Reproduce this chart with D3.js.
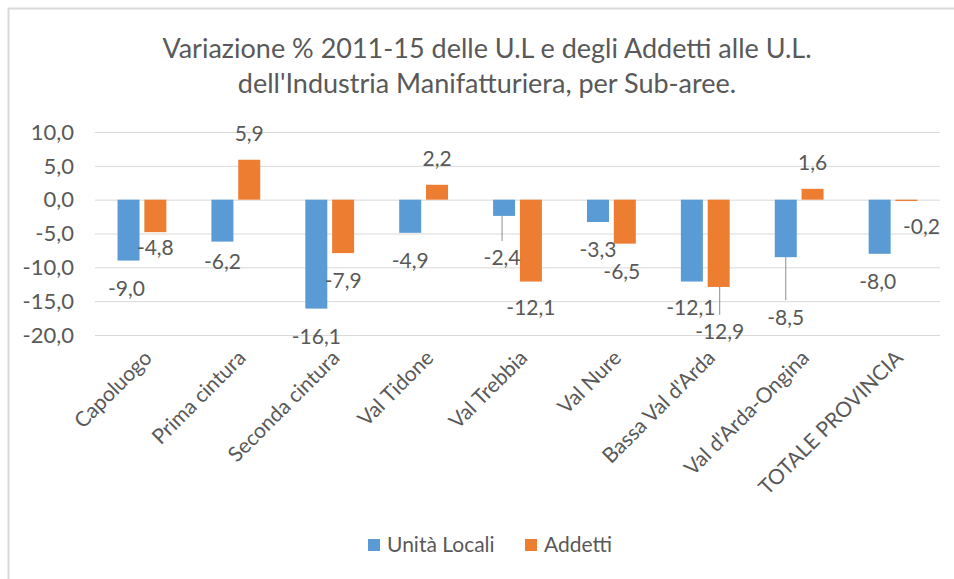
<!DOCTYPE html>
<html>
<head>
<meta charset="utf-8">
<script src="https://cdn.jsdelivr.net/npm/d3@7"></script>
<style>
  body { margin: 0; background: #fff; }
  svg text { font-family: Lato, "Open Sans", sans-serif; fill: #595959; }
</style>
</head>
<body>
<svg id="chart" width="954" height="579"></svg>
<script>
// data
var categories = ["Capoluogo", "Prima cintura", "Seconda cintura", "Val Tidone", "Val Trebbia",
  "Val Nure", "Bassa Val d'Arda", "Val d'Arda-Ongina", "TOTALE PROVINCIA"];
var unitaLocali = [-9.0, -6.2, -16.1, -4.9, -2.4, -3.3, -12.1, -8.5, -8.0];
var addetti = [-4.8, 5.9, -7.9, 2.2, -12.1, -6.5, -12.9, 1.6, -0.2];
var seriesNames = ["Unità Locali", "Addetti"];
var yTicks = [10, 5, 0, -5, -10, -15, -20];
var titleLines = ["Variazione % 2011-15 delle U.L e degli Addetti alle U.L.",
  "dell'Industria Manifatturiera, per Sub-aree."];

var colors = ["#5b9bd5", "#ed7d31"];

// hand-moved data labels (dx, dy from default spot), one list per series
var labelShift = [
  [[-2, 0], [0, -8], [0, 0], [0, 0], [-2, 14], [0, 0], [-1, -2], [0, 32], [-2, 0]],
  [[0, -12], [0, 0], [0, 0], [0, 0], [0, -2], [-3, 0], [1, 17], [0, 0], [15, -2]]
];
var leaderLines = [[4, 7], [6]]; // labels that get a thin leader line

var svg = d3.select("#chart");

// chart frame
svg.append("rect")
  .attr("x", 8.5).attr("y", 8.5)
  .attr("width", 960).attr("height", 600)
  .attr("fill", "none").attr("stroke", "#d9d9d9").attr("stroke-width", 2);

var plot = {left: 95, right: 940, top: 132, bottom: 335};

var x0 = d3.scaleBand().domain(categories)
  .range([plot.left, plot.right])
  .paddingInner(0.48).paddingOuter(0.24);
var x1 = d3.scaleBand().domain([0, 1])
  .range([0, x0.bandwidth()])
  .paddingInner(0.18);
var y = d3.scaleLinear().domain([-20, 10]).range([plot.bottom, plot.top]);

var fmt = function(v) { return d3.format(".1f")(v).replace(".", ",").replace("−", "-"); };

// title
svg.append("g").selectAll("text")
  .data(titleLines).enter().append("text")
  .attr("x", 487).attr("y", function(d, i) { return 58 + i * 35; })
  .attr("text-anchor", "middle")
  .style("font-size", "27px")
  .text(function(d) { return d; });

// gridlines
svg.append("g")
  .attr("transform", "translate(" + plot.left + ",0)")
  .call(d3.axisLeft(y).tickValues(yTicks).tickSize(-(plot.right - plot.left)).tickFormat(""))
  .call(function(g) {
    g.select(".domain").remove();
    g.selectAll(".tick line").attr("stroke", "#d9d9d9").attr("stroke-width", 1);
  });

// y axis labels
svg.append("g").selectAll("text")
  .data(yTicks).enter().append("text")
  .attr("x", 74).attr("y", function(d) { return y(d); })
  .attr("dy", "0.35em")
  .attr("text-anchor", "end")
  .style("font-size", "22px")
  .text(fmt);

var series = [unitaLocali, addetti];

series.forEach(function(vals, s) {
  svg.append("g").selectAll("rect")
    .data(vals).enter().append("rect")
    .attr("x", function(d, i) { return x0(categories[i]) + x1(s); })
    .attr("width", x1.bandwidth())
    .attr("y", function(d) { return y(Math.max(0, d)); })
    .attr("height", function(d) { return Math.abs(y(d) - y(0)); })
    .attr("fill", colors[s]);
});

// data labels
series.forEach(function(vals, s) {
  var g = svg.append("g");
  var pos = function(d, i) {
    var cx = x0(categories[i]) + x1(s) + x1.bandwidth() / 2;
    var off = d >= 0 ? -26 : 28;
    return [cx + labelShift[s][i][0], y(d) + off + labelShift[s][i][1]];
  };
  g.selectAll("line")
    .data(leaderLines[s]).enter().append("line")
    .attr("x1", function(i) { return pos(vals[i], i)[0]; })
    .attr("x2", function(i) { return pos(vals[i], i)[0]; })
    .attr("y1", function(i) { return y(vals[i]); })
    .attr("y2", function(i) { return pos(vals[i], i)[1] - 17; })
    .attr("stroke", "#8c8c8c").attr("stroke-width", 1);
  g.selectAll("text")
    .data(vals).enter().append("text")
    .attr("x", function(d, i) { return pos(d, i)[0]; })
    .attr("y", function(d, i) { return pos(d, i)[1]; })
    .attr("dy", "0.35em")
    .attr("text-anchor", "middle")
    .style("font-size", "21px")
    .text(fmt);
});

// category labels
svg.append("g").selectAll("text")
  .data(categories).enter().append("text")
  .attr("transform", function(d) {
    return "translate(" + (x0(d) + x0.bandwidth() / 2 + 6) + ",354) rotate(-45)";
  })
  .attr("text-anchor", "end")
  .attr("dy", "0.35em")
  .style("font-size", "21px")
  .text(function(d) { return d; });

// legend
var legend = svg.append("g").attr("transform", "translate(368,545)");
var items = legend.selectAll("g").data(seriesNames).enter().append("g")
  .attr("transform", function(d, i) { return "translate(" + (i * 157) + ",0)"; });
items.append("rect").attr("x", 0).attr("y", -6).attr("width", 12).attr("height", 12)
  .attr("fill", function(d, i) { return colors[i]; });
items.append("text").attr("x", 19).attr("dy", "0.35em")
  .style("font-size", "21px")
  .text(function(d) { return d; });
</script>
</body>
</html>
